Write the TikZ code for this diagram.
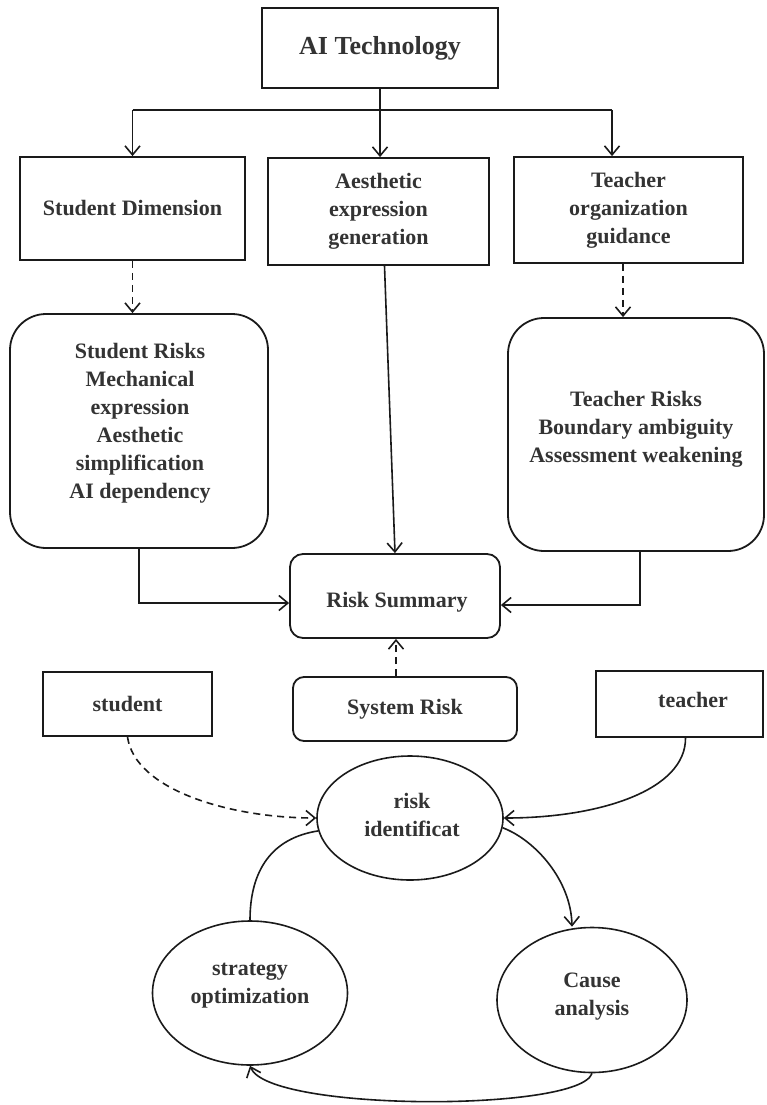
\documentclass[tikz,border=0pt]{standalone}
\usepackage{fontspec}
\setmainfont{Liberation Serif}
\usetikzlibrary{arrows.meta,shapes.geometric}
\definecolor{ink}{HTML}{1A1A1A}
\definecolor{txtgray}{HTML}{333333}
\begin{document}
\begin{tikzpicture}[x=1pt,y=-1pt,
  every node/.style={font=\fontsize{22}{28}\selectfont\bfseries, text=txtgray, align=center},
  sqbox/.style={draw=ink, line width=1.8pt, rectangle, inner sep=0pt},
  biground/.style={sqbox, rounded corners=36pt},
  smallround/.style={sqbox, rounded corners=13pt},
  oval/.style={draw=ink, line width=1.6pt, ellipse, inner sep=0pt},
  conn/.style={draw=ink, line width=1.6pt},
  arr/.style={conn, -{Straight Barb[length=9pt,width=15pt]}},
  darr/.style={arr, dash pattern=on 7pt off 5pt}]
\useasboundingbox (0,0) rectangle (766,1105);

% top level
\node[sqbox, minimum width=236pt, minimum height=80pt] (ai) at (380,48)
  {\fontsize{26}{30}\selectfont AI Technology};

% three dimensions
\node[sqbox, minimum width=225pt, minimum height=103pt] (sd) at (132.5,208.5) {Student Dimension};
\node[sqbox, minimum width=221pt, minimum height=107pt] (aeg) at (378.5,211.5)
  {Aesthetic\\expression\\generation};
\node[sqbox, minimum width=229pt, minimum height=106pt] (tog) at (628.5,210)
  {Teacher\\organization\\guidance};

% risk boxes
\node[biground, minimum width=258pt, minimum height=234pt] (sr) at (139,431) {};
\node (srt) at (140,423) {\fontsize{22}{28.8}\selectfont Student Risks\\Mechanical\\expression\\Aesthetic\\simplification\\AI dependency};
\node[biground, minimum width=256pt, minimum height=233pt] (tr) at (636,434.5) {};
\node (trt) at (636,429) {\fontsize{22}{28.8}\selectfont Teacher Risks\\Boundary ambiguity\\Assessment weakening};

% summary
\node[smallround, minimum width=210pt, minimum height=84pt] (rs) at (395,596) {};
\node (rst) at (397,602) {Risk Summary};
\node[smallround, rounded corners=11pt, minimum width=224pt, minimum height=64pt] (sys) at (405,709) {System Risk};

% actors
\node[sqbox, minimum width=169pt, minimum height=64pt] (st) at (127.5,704) {student};
\node[sqbox, minimum width=167pt, minimum height=66pt] (te) at (679.5,704) {};
\node (tet) at (693,700) {teacher};

% cycle
\node[oval, minimum width=186pt, minimum height=124pt] (ri) at (410,818) {};
\node (rit) at (412,815) {risk\\identificat};
\node[oval, minimum width=195pt, minimum height=144pt] (so) at (250,993) {};
\node (sot) at (250,986) {strategy\\optimization};
\node[oval, minimum width=190pt, minimum height=145pt] (ca) at (592,1000) {};
\node (cat) at (592,997) {Cause\\analysis};

% distribution bus from the top box
\coordinate (hubY) at (0,110);
\coordinate (hub) at (ai.south |- hubY);
\coordinate (busL) at (sd.north |- hubY);
\coordinate (busR) at (612,110);
\draw[conn] (ai.south) -- (hub);
\draw[conn] (busL) -- (busR);
\draw[arr] (busL) -- (sd.north);
\draw[arr] (hub) -- (hub |- aeg.north);
\draw[arr] (busR) -- (busR |- tog.north);

% dimension to risks
\draw[darr] (sd.south) -- (sd.south |- sr.north);
\draw[darr] ([xshift=-5.5pt]tog.south) -- ([xshift=-5.5pt]tog.south |- tr.north);
\draw[arr] ([xshift=6pt]aeg.south) -- (rs.north);
\draw[arr] (sr.south) |- ([yshift=-7pt]rs.west);
\draw[arr] ([xshift=4pt]tr.south) |- ([yshift=-9pt]rs.east);
\draw[darr] ([xshift=-9pt]sys.north) -- ([xshift=-9pt]sys.north |- rs.south);

% actors feed the cycle
\draw[darr] (st.south) .. controls (135,790) and (230,818) .. (ri.west);
\draw[arr] ([xshift=6pt]te.south) .. controls (686,790) and (600,818) .. (ri.east);

% cycle connectors
\draw[arr] (ri.-6) .. controls (535,840) and (571,880) .. ([xshift=-20pt]ca.north);
\draw[arr] (ca.south) .. controls (580,1112) and (268,1112) .. (so.south);
\draw[conn] (so.north) .. controls (250,870) and (272,838) .. (ri.188);
\end{tikzpicture}
\end{document}
